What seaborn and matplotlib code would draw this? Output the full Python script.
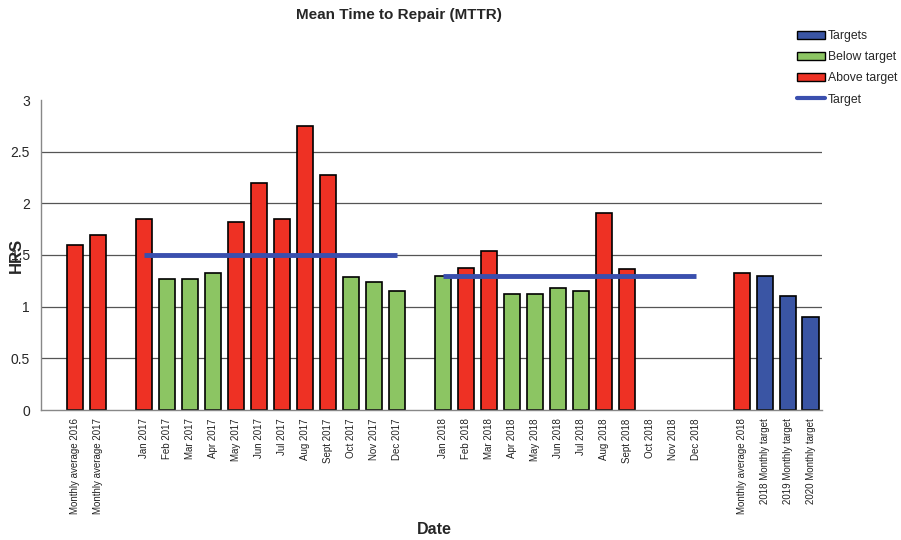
# Mean Time to Repair (MTTR) bar chart

import matplotlib
matplotlib.use("Agg")
import matplotlib.pyplot as plt
import matplotlib.patches as mpatches
import matplotlib.lines as mlines
import numpy as np
import pandas as pd
import seaborn as sns

# categories in axis order (blank strings are empty gap slots)
labels = ["", "Monthly average 2016", "Monthly average 2017", " ",
          "Jan 2017", "Feb 2017", "Mar 2017", "Apr 2017", "May 2017", "Jun 2017",
          "Jul 2017", "Aug 2017", "Sept 2017", "Oct 2017", "Nov 2017", "Dec 2017", "  ",
          "Jan 2018", "Feb 2018", "Mar 2018", "Apr 2018", "May 2018", "Jun 2018",
          "Jul 2018", "Aug 2018", "Sept 2018", "Oct 2018", "Nov 2018", "Dec 2018", "   ",
          "Monthly average 2018", "2018 Monthly target", "2019 Monthly target",
          "2020 Monthly target"]

# bars that have a value
bar_dates = ["Monthly average 2016", "Monthly average 2017",
             "Jan 2017", "Feb 2017", "Mar 2017", "Apr 2017", "May 2017", "Jun 2017",
             "Jul 2017", "Aug 2017", "Sept 2017", "Oct 2017", "Nov 2017", "Dec 2017",
             "Jan 2018", "Feb 2018", "Mar 2018", "Apr 2018", "May 2018", "Jun 2018",
             "Jul 2018", "Aug 2018", "Sept 2018",
             "Monthly average 2018", "2018 Monthly target", "2019 Monthly target",
             "2020 Monthly target"]
bar_hrs = [1.60, 1.69,
           1.85, 1.27, 1.27, 1.33, 1.82, 2.20, 1.85, 2.75, 2.27, 1.29, 1.24, 1.15,
           1.30, 1.37, 1.54, 1.12, 1.12, 1.18, 1.15, 1.91, 1.36,
           1.33, 1.30, 1.10, 0.90]
bar_status = ["Above target", "Above target",
              "Above target", "Below target", "Below target", "Below target",
              "Above target", "Above target", "Above target", "Above target",
              "Above target", "Below target", "Below target", "Below target",
              "Below target", "Above target", "Above target", "Below target",
              "Below target", "Below target", "Below target", "Above target",
              "Above target",
              "Above target", "Targets", "Targets", "Targets"]

# target lines: value, first month, last month
target_2017 = (1.5, "Jan 2017", "Dec 2017")
target_2018 = (1.3, "Jan 2018", "Dec 2018")

colors = {"Targets": "#3A55A4", "Below target": "#8CC563", "Above target": "#EE3124"}
line_color = "#3A4FAE"

df = pd.DataFrame({"Date": bar_dates, "HRS": bar_hrs, "status": bar_status})

sns.set_style("white")
plt.rcParams['font.family'] = ['Liberation Sans', 'DejaVu Sans']

fig = plt.figure(figsize=(9.01, 5.4), dpi=100)
ax = fig.add_axes([41 / 901, 130 / 540, 781 / 901, 310 / 540])

sns.barplot(data=df, x="Date", y="HRS", hue="status", order=labels,
            hue_order=["Targets", "Below target", "Above target"],
            palette=colors, saturation=1, dodge=False, width=0.7,
            edgecolor="black", linewidth=1.2, legend=False, ax=ax)

# target lines
for val, start, end in [target_2017, target_2018]:
    ax.hlines(val, labels.index(start), labels.index(end), color=line_color,
              linewidth=3.5, zorder=5)

ax.set_xlim(-0.5, len(labels) - 0.5)
ax.set_ylim(0, 3)
ax.set_yticks(np.arange(0, 3.01, 0.5))
ax.set_yticklabels(["0", "0.5", "1", "1.5", "2", "2.5", "3"], fontsize=10)

# grid lines (not at the top)
for y in np.arange(0.5, 2.51, 0.5):
    ax.axhline(y, color="#555555", linewidth=0.9, zorder=0)

ax.set_xticks(range(len(labels)))
ax.set_xticklabels(labels, rotation=90, fontsize=7, color="#222222")
ax.tick_params(axis="x", length=0, pad=6)
ax.set_xticks(np.arange(-0.5, len(labels), 1), minor=True)
ax.tick_params(axis="x", which="minor", length=4, color="#888888", direction="out")
ax.tick_params(axis="y", length=4, color="#888888", direction="out", pad=4)

for s in ["top", "right"]:
    ax.spines[s].set_visible(False)
for s in ["left", "bottom"]:
    ax.spines[s].set_color("#888888")
    ax.spines[s].set_linewidth(1.0)

ax.set_ylabel("HRS", fontsize=12, fontweight="bold")
ax.yaxis.set_label_coords(-0.022, 0.5)
ax.set_xlabel("Date", fontsize=11.5, fontweight="bold")
ax.xaxis.set_label_coords(0.504, -0.36)

fig.suptitle("Mean Time to Repair (MTTR)", fontsize=11, fontweight="bold",
             x=399 / 901, y=1 - 8 / 540, va="top")

# legend
handles = [mpatches.Patch(facecolor=colors["Targets"], edgecolor="black", label="Targets"),
           mpatches.Patch(facecolor=colors["Below target"], edgecolor="black", label="Below target"),
           mpatches.Patch(facecolor=colors["Above target"], edgecolor="black", label="Above target"),
           mlines.Line2D([], [], color=line_color, linewidth=3, label="Target")]
fig.legend(handles=handles, loc="upper left", bbox_to_anchor=(797 / 901, 1 - 30 / 540),
           frameon=False, fontsize=8.8, handlelength=2.3, handleheight=0.6,
           handletextpad=0.2, labelspacing=0.75, borderpad=0, borderaxespad=0)

plt.savefig("out.png", dpi=100)
